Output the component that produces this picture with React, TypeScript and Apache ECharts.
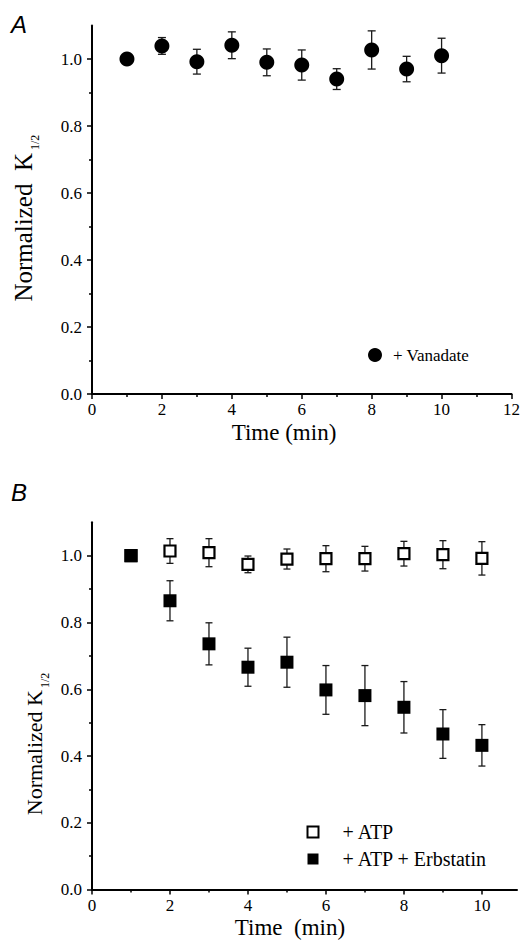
import React, { useEffect, useRef } from 'react';
import * as echarts from 'echarts';

// Panel A data
const timeA = [1, 2, 3, 4, 5, 6, 7, 8, 9, 10];
const vanadateMean = [1.0, 1.039, 0.992, 1.041, 0.99, 0.982, 0.94, 1.027, 0.97, 1.01];
const vanadateErr = [0, 0.025, 0.037, 0.04, 0.04, 0.045, 0.031, 0.057, 0.038, 0.052];

// Panel B data
const timeB = [1, 2, 3, 4, 5, 6, 7, 8, 9, 10];
const atpMean = [1.0, 1.014, 1.009, 0.974, 0.99, 0.991, 0.991, 1.006, 1.003, 0.992];
const atpErr = [0, 0.037, 0.042, 0.025, 0.03, 0.039, 0.037, 0.037, 0.042, 0.05];
const erbMean = [1.0, 0.865, 0.736, 0.666, 0.681, 0.598, 0.581, 0.546, 0.466, 0.432];
const erbErr = [0, 0.06, 0.063, 0.057, 0.075, 0.073, 0.09, 0.077, 0.073, 0.062];

// Ticks
const yMajor = [0, 0.2, 0.4, 0.6, 0.8, 1.0];
const yMinor = [0.1, 0.3, 0.5, 0.7, 0.9];
const xMajorA = [0, 2, 4, 6, 8, 10, 12];
const xMinorA = [1, 3, 5, 7, 9, 11];
const xMajorB = [0, 2, 4, 6, 8, 10];
const xMinorB = [1, 3, 5, 7, 9];

const serif = '"Liberation Serif", "Times New Roman", serif';
const sans = '"Liberation Sans", Arial, sans-serif';

function xAxes(gridIndex: number, max: number, major: number[], minor: number[]) {
  return [
    {
      type: 'value', gridIndex, min: 0, max, position: 'bottom',
      axisLine: { show: true, onZero: false, lineStyle: { color: '#000', width: 2 } },
      axisTick: { show: true, customValues: major, length: 5, lineStyle: { color: '#000', width: 1.5 } },
      axisLabel: { show: true, customValues: major, color: '#000', fontFamily: serif, fontSize: 17, margin: 7 },
      splitLine: { show: false },
    },
    {
      type: 'value', gridIndex, min: 0, max, position: 'bottom',
      axisLine: { show: false },
      axisTick: { show: true, customValues: minor, length: 3, lineStyle: { color: '#000', width: 1.5 } },
      axisLabel: { show: false },
      splitLine: { show: false },
    },
  ];
}

function yAxes(gridIndex: number, max: number) {
  return [
    {
      type: 'value', gridIndex, min: 0, max, position: 'left',
      axisLine: { show: true, onZero: false, lineStyle: { color: '#000', width: 2 } },
      axisTick: { show: true, customValues: yMajor, length: 5, lineStyle: { color: '#000', width: 1.5 } },
      axisLabel: {
        show: true, customValues: yMajor, color: '#000', fontFamily: serif, fontSize: 17, margin: 10,
        formatter: (v: number) => v.toFixed(1),
      },
      splitLine: { show: false },
    },
    {
      type: 'value', gridIndex, min: 0, max, position: 'left',
      axisLine: { show: false },
      axisTick: { show: true, customValues: yMinor, length: 3, lineStyle: { color: '#000', width: 1.5 } },
      axisLabel: { show: false },
      splitLine: { show: false },
    },
  ];
}

function errData(t: number[], m: number[], e: number[]) {
  const out: number[][] = [];
  t.forEach((x, i) => {
    if (e[i] > 0) out.push([x, m[i] - e[i], m[i] + e[i]]);
  });
  return out;
}

function errSeries(data: number[][], xi: number, yi: number, cap: number) {
  return {
    type: 'custom',
    xAxisIndex: xi,
    yAxisIndex: yi,
    silent: true,
    z: 1,
    encode: { x: 0, y: [1, 2] },
    data,
    renderItem: (_p: any, api: any) => {
      const x = api.value(0);
      const top = api.coord([x, api.value(2)]);
      const bot = api.coord([x, api.value(1)]);
      const st = { stroke: '#1a1a1a', lineWidth: 1.3 };
      return {
        type: 'group',
        children: [
          { type: 'line', shape: { x1: top[0], y1: top[1], x2: bot[0], y2: bot[1] }, style: st },
          { type: 'line', shape: { x1: top[0] - cap, y1: top[1], x2: top[0] + cap, y2: top[1] }, style: st },
          { type: 'line', shape: { x1: bot[0] - cap, y1: bot[1], x2: bot[0] + cap, y2: bot[1] }, style: st },
        ],
      };
    },
  };
}

export default function App() {
  const ref = useRef<HTMLDivElement>(null);
  useEffect(() => {
    if (!ref.current) return;
    const chart = echarts.init(ref.current, undefined, { renderer: 'svg' });
    const option: any = {
      animation: false,
      backgroundColor: '#fff',
      grid: [
        { left: 92, top: 25.5, width: 423, height: 368.5 },
        { left: 92, top: 522.3, width: 425, height: 367.3 },
      ],
      xAxis: [...xAxes(0, 12, xMajorA, xMinorA), ...xAxes(1, 10.9, xMajorB, xMinorB)],
      yAxis: [...yAxes(0, 1.1), ...yAxes(1, 1.1)],
      legend: [
        {
          data: ['+ Vanadate'], left: 368, top: 346.5, padding: 0,
          itemWidth: 14, itemHeight: 14, selectedMode: false,
          itemStyle: { opacity: 1 },
          textStyle: { fontFamily: serif, fontSize: 17, color: '#000', padding: [0, 0, 0, 6] },
        },
        {
          data: ['+ ATP', '+ ATP + Erbstatin'], orient: 'vertical', left: 306.5, top: 822, padding: 0,
          itemWidth: 11, itemHeight: 11, itemGap: 7, selectedMode: false,
          itemStyle: { opacity: 1 },
          textStyle: { fontFamily: serif, fontSize: 20, lineHeight: 20, color: '#000', padding: [0, 0, 0, 19] },
        },
      ],
      graphic: [
        { type: 'text', x: 11, y: 12, style: { text: 'A', font: `italic 24px ${sans}`, fill: '#000', textVerticalAlign: 'top' } },
        { type: 'text', x: 11, y: 480, style: { text: 'B', font: `italic 24px ${sans}`, fill: '#000', textVerticalAlign: 'top' } },
        {
          type: 'text', x: 23, y: 153, rotation: Math.PI / 2,
          style: { text: 'Normalized  K', font: `25px ${serif}`, fill: '#000', textAlign: 'right', textVerticalAlign: 'middle' },
        },
        {
          type: 'text', x: 35, y: 150, rotation: Math.PI / 2,
          style: { text: '1/2', font: `12px ${serif}`, fill: '#000', textAlign: 'left', textVerticalAlign: 'middle' },
        },
        {
          type: 'text', x: 34, y: 690, rotation: Math.PI / 2,
          style: { text: 'Normalized K', font: `22px ${serif}`, fill: '#000', textAlign: 'right', textVerticalAlign: 'middle' },
        },
        {
          type: 'text', x: 45, y: 688, rotation: Math.PI / 2,
          style: { text: '1/2', font: `12px ${serif}`, fill: '#000', textAlign: 'left', textVerticalAlign: 'middle' },
        },
        {
          type: 'text', x: 284, y: 432,
          style: { text: 'Time (min)', font: `23px ${serif}`, fill: '#000', textAlign: 'center', textVerticalAlign: 'middle' },
        },
        {
          type: 'text', x: 290, y: 927,
          style: { text: 'Time  (min)', font: `23px ${serif}`, fill: '#000', textAlign: 'center', textVerticalAlign: 'middle' },
        },
      ],
      series: [
        errSeries(errData(timeA, vanadateMean, vanadateErr), 0, 0, 4),
        {
          name: '+ Vanadate', type: 'scatter', xAxisIndex: 0, yAxisIndex: 0, z: 3,
          symbol: 'circle', symbolSize: 15, itemStyle: { color: '#000', opacity: 1 },
          data: timeA.map((t, i) => [t, vanadateMean[i]]),
        },
        errSeries(errData(timeB, atpMean, atpErr), 2, 2, 3.5),
        errSeries(errData(timeB, erbMean, erbErr), 2, 2, 3.5),
        {
          name: '+ ATP', type: 'scatter', xAxisIndex: 2, yAxisIndex: 2, z: 3,
          symbol: 'rect', symbolSize: 11,
          itemStyle: { color: '#fff', borderColor: '#000', borderWidth: 2.2, opacity: 1 },
          data: timeB.map((t, i) => [t, atpMean[i]]),
        },
        {
          name: '+ ATP + Erbstatin', type: 'scatter', xAxisIndex: 2, yAxisIndex: 2, z: 4,
          symbol: 'rect', symbolSize: 13, itemStyle: { color: '#000', opacity: 1 },
          data: timeB.map((t, i) => [t, erbMean[i]]),
        },
      ],
    };
    chart.setOption(option);
    return () => chart.dispose();
  }, []);
  return (
    <div
      ref={ref}
      style={{ position: 'fixed', left: 0, top: 0, width: 523, height: 941, background: '#fff' }}
    />
  );
}
